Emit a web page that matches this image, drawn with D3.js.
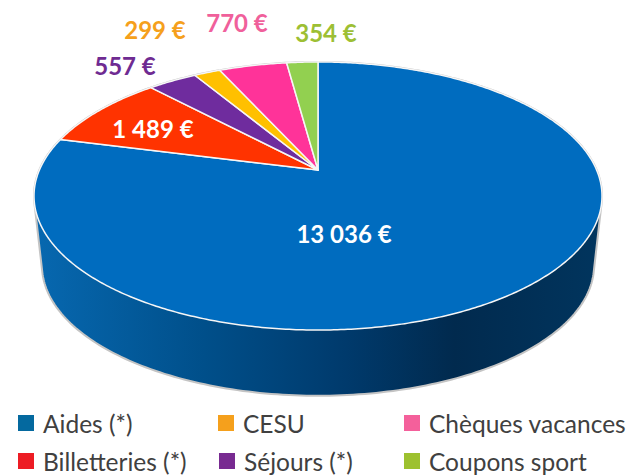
<!DOCTYPE html>
<html>
<head>
<meta charset="utf-8">
<script src="https://cdn.jsdelivr.net/npm/d3@7"></script>
<style>
    html, body { margin: 0; padding: 0; background: #fff; }
    svg { display: block; }
    text { font-family: Lato, "Open Sans", sans-serif; }
</style>
</head>
<body>
<div id="chart"></div>
<script>
// values, clockwise from 12 o'clock
const categories = ['Aides (*)', 'Billetteries (*)', 'Séjours (*)', 'CESU', 'Chèques vacances', 'Coupons sport'];
const values = [13036, 1489, 557, 299, 770, 354];
const valueLabels = ['13 036 €', '1 489 €', '557 €', '299 €', '770 €', '354 €'];
const sliceColors = ['#006cbf', '#ff3300', '#6f2c9e', '#ffc000', '#ff3399', '#92d050'];
const labelColors = ['#ffffff', '#ffffff', '#6f2b92', '#f5a01c', '#f0609b', '#9dbf34'];
const legendColors = ['#04699f', '#ed1c24', '#782a91', '#f5a01c', '#f4609b', '#9dc12f'];

const width = 627;
const height = 476;

// label centres, same order as the categories
const labelPos = [[344, 235], [153, 130], [125, 67], [155, 31], [237, 24], [326, 34]];
// legend cell for each category, [column x, row y]
const legendPos = [[18, 415], [18, 453], [219, 453], [218, 415], [404, 415], [404, 453]];

// perspective of the pie disc: apex of the slices sits above the ellipse centre
const apex = { x: 318, y: 170 };
const tilt = 0.194;
const scaleX = 278.6;
const scaleY = 129;

// side wall: lower rim is the top rim shrunk a little and moved down
const rimScale = 0.972;
const rimShift = 75;

const project = (a, r = 1) => {
    const u = r * Math.sin(a);
    const v = -r * Math.cos(a);
    const w = 1 - tilt * v;
    return [apex.x + scaleX * u / w, apex.y + scaleY * v / w];
};

const svg = d3.select('#chart').append('svg')
    .attr('width', width)
    .attr('height', height);

// wall gradient runs left to right
const grad = svg.append('defs').append('linearGradient')
    .attr('id', 'wall')
    .attr('gradientUnits', 'userSpaceOnUse')
    .attr('x1', 34).attr('x2', 602).attr('y1', 0).attr('y2', 0);
[[0, '#0768b0'], [0.3, '#004f8a'], [0.55, '#003a6c'], [0.74, '#012a4e'], [1, '#01355e']]
    .forEach(s => grad.append('stop').attr('offset', s[0]).attr('stop-color', s[1]));

const circle = d3.range(0, 2 * Math.PI, Math.PI / 180);
const topRim = circle.map(a => project(a));
const lowRim = topRim.map(p => [apex.x + (p[0] - apex.x) * rimScale, p[1] * rimScale + rimShift]);

const line = d3.line();

svg.append('path')
    .attr('d', line(d3.polygonHull(topRim.concat(lowRim))) + 'Z')
    .attr('fill', 'url(#wall)')
    .attr('stroke', '#c4c4c4')
    .attr('stroke-width', 2);

// top face
const pie = d3.pie().sort(null);
const arcs = pie(values);

svg.selectAll('.slice')
    .data(arcs)
    .enter()
    .append('path')
    .attr('class', 'slice')
    .attr('d', d => {
        const n = Math.ceil((d.endAngle - d.startAngle) / 0.01);
        const pts = d3.range(n + 1).map(i => project(d.startAngle + (d.endAngle - d.startAngle) * i / n));
        return line([[apex.x, apex.y]].concat(pts)) + 'Z';
    })
    .attr('fill', (d, i) => sliceColors[i])
    .attr('stroke', '#f6f6f6')
    .attr('stroke-width', 1.5)
    .attr('stroke-linejoin', 'round');

// value labels
svg.selectAll('.value')
    .data(valueLabels)
    .enter()
    .append('text')
    .attr('class', 'value')
    .attr('x', (d, i) => labelPos[i][0])
    .attr('y', (d, i) => labelPos[i][1])
    .attr('dy', '0.35em')
    .attr('text-anchor', 'middle')
    .style('font-size', '24px')
    .style('font-weight', 700)
    .style('fill', (d, i) => labelColors[i])
    .text(d => d);

// legend
const legend = svg.selectAll('.legend')
    .data(categories)
    .enter()
    .append('g')
    .attr('class', 'legend')
    .attr('transform', (d, i) => `translate(${legendPos[i][0]},${legendPos[i][1]})`);

legend.append('rect')
    .attr('width', 16)
    .attr('height', 16)
    .style('fill', (d, i) => legendColors[i]);

legend.append('text')
    .attr('x', 25)
    .attr('y', 18)
    .style('font-size', '24.5px')
    .style('fill', '#404040')
    .text(d => d);
</script>
</body>
</html>
